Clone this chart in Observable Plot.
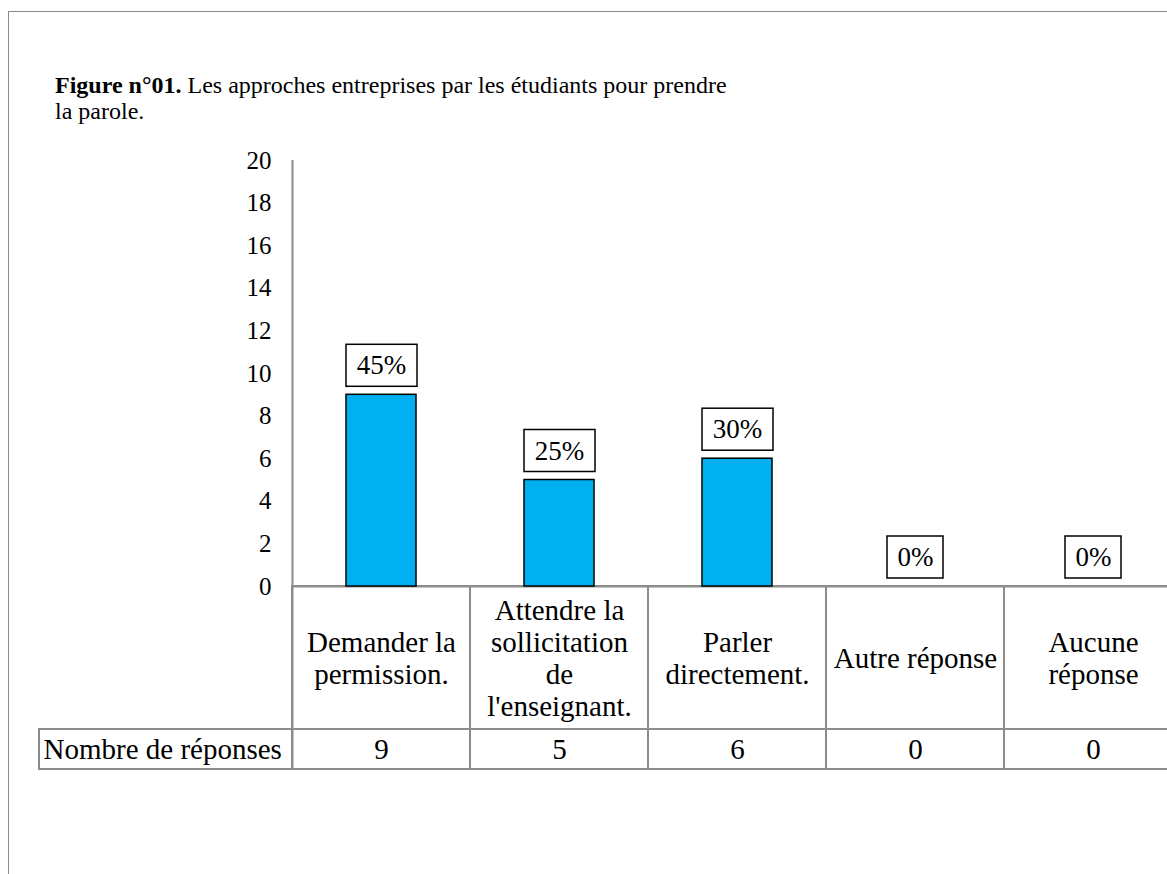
<!DOCTYPE html>
<html>
<head>
<meta charset="utf-8">
<script src="https://cdn.jsdelivr.net/npm/d3@7"></script>
<script src="https://cdn.jsdelivr.net/npm/@observablehq/plot@0.6"></script>
<style>
  html, body { margin: 0; padding: 0; background: #fff; }
  #wrap { position: relative; width: 1167px; height: 874px; overflow: hidden; }
  #frame { position: absolute; left: 8px; top: 11px; width: 1300px; height: 1000px;
           border-left: 1.5px solid #8a8a8a; border-top: 1.5px solid #8a8a8a; box-sizing: border-box; }
  #title { position: absolute; left: 55px; top: 72px;
           font-family: "Liberation Serif", "Times New Roman", serif; font-size: 24px; line-height: 26px; color: #000; white-space: nowrap; }
  #chart { position: absolute; left: 0; top: 0; }
</style>
</head>
<body>
<div id="wrap">
  <div id="frame"></div>
  <div id="chart"></div>
  <div id="title"><b>Figure n°01.</b> Les approches entreprises par les étudiants pour prendre<br>la parole.</div>
</div>
<script>
// ---- data ----
const categories = ["Demander la permission.", "Attendre la sollicitation de l'enseignant.", "Parler directement.", "Autre réponse", "Aucune réponse"];
const categoryLines = ["Demander la\npermission.", "Attendre la\nsollicitation\nde\nl'enseignant.", "Parler\ndirectement.", "Autre réponse", "Aucune\nréponse"];
const counts = [9, 5, 6, 0, 0];
const percents = [45, 25, 30, 0, 0];
const yTicks = [0, 2, 4, 6, 8, 10, 12, 14, 16, 18, 20];
const rowHeader = "Nombre de réponses";

const data = categories.map((c, i) => ({category: c, label: categoryLines[i], count: counts[i], pct: percents[i]}));

// ---- layout constants (pixels) ----
const bandW = 178;
const labelRowH = 143;   // category label row height
const valueRowH = 40;    // value row height
const headerW = 253;     // "Nombre de réponses" cell width
const gray = "#8c8c8c";
const serif = "Liberation Serif";

const chart = Plot.plot({
  width: 1167,
  height: 874,
  marginLeft: 292,
  marginRight: 0,
  marginTop: 0,
  marginBottom: 0,
  style: {fontFamily: serif, fontSize: "25px", color: "#000", background: "transparent", overflow: "visible"},
  x: {type: "band", domain: categories, range: [292, 292 + bandW * categories.length], padding: 0, axis: null},
  y: {domain: [0, 20], range: [586, 160], ticks: yTicks, tickSize: 0, tickPadding: 21, tickFormat: d => String(d), label: null},
  marks: [
    Plot.ruleX([categories[0]], {y1: 20, y2: 0, dx: -bandW / 2, stroke: gray, strokeWidth: 2, insetBottom: -(labelRowH + valueRowH)}),
    Plot.barY(data, {x: "category", y1: () => 0, y2: () => 0, insetTop: 0, insetBottom: -labelRowH, fill: "none", stroke: gray, strokeWidth: 2}),
    Plot.barY(data, {x: "category", y1: () => 0, y2: () => 0, insetTop: labelRowH, insetBottom: -(labelRowH + valueRowH), fill: "none", stroke: gray, strokeWidth: 2}),
    Plot.barY([categories[0]], {x: d => d, y1: () => 0, y2: () => 0, insetLeft: -headerW, insetRight: bandW, insetTop: labelRowH, insetBottom: -(labelRowH + valueRowH), fill: "none", stroke: gray, strokeWidth: 2}),
    Plot.ruleY([0], {stroke: gray, strokeWidth: 2}),
    Plot.barY(data, {x: "category", y: "count", insetLeft: 54, insetRight: 54, fill: "#00B0F0", stroke: "#000", strokeWidth: 1.5}),
    Plot.barY(data.filter(d => d.pct >= 10), {x: "category", y1: "count", y2: "count", insetLeft: 54, insetRight: 53, insetTop: -50, insetBottom: 8, fill: "#fff", stroke: "#000", strokeWidth: 1.5}),
    Plot.barY(data.filter(d => d.pct < 10), {x: "category", y1: "count", y2: "count", insetLeft: 61, insetRight: 61, insetTop: -50, insetBottom: 8, fill: "#fff", stroke: "#000", strokeWidth: 1.5}),
    Plot.text(data, {x: "category", y: "count", text: d => d.pct + "%", dy: -29, fontSize: 27, fill: "#000"}),
    Plot.text(data, {x: "category", y: () => 0, dy: labelRowH / 2, text: "label", lineAnchor: "middle", lineHeight: 1.1, fontSize: 29, fill: "#000"}),
    Plot.text(data, {x: "category", y: () => 0, dy: labelRowH + valueRowH / 2, text: d => String(d.count), fontSize: 29, fill: "#000"}),
    Plot.text([rowHeader], {x: () => categories[0], y: () => 0, dx: -bandW / 2 - headerW + 4, dy: labelRowH + valueRowH / 2, text: d => d, textAnchor: "start", fontSize: 29, fill: "#000"})
  ]
});
document.getElementById("chart").appendChild(chart);
</script>
</body>
</html>
